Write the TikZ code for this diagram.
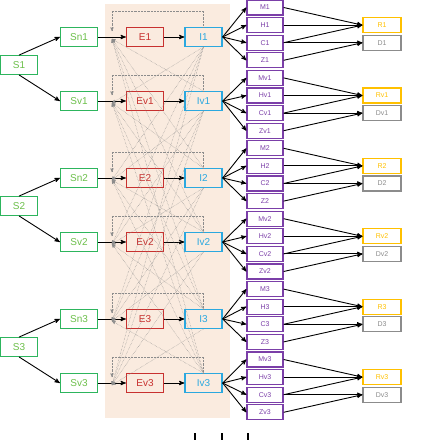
\documentclass[tikz,border=0pt]{standalone}
\usepackage{fontspec}
\setsansfont{Liberation Sans}
\usetikzlibrary{arrows}

\definecolor{sline}{HTML}{2DB55D}
\definecolor{stext}{HTML}{6CBF4A}
\definecolor{eline}{HTML}{C8312F}
\definecolor{iline}{HTML}{2BA8DF}
\definecolor{mline}{HTML}{7B3FA8}
\definecolor{rline}{HTML}{FFC000}
\definecolor{dline}{HTML}{8C8C8C}
\definecolor{peach}{HTML}{FAEBDF}

\begin{document}
\begin{tikzpicture}[font=\sffamily,
x=1pt, y=-1pt,
>=stealth',
box/.style={draw, line width=1.3pt, inner sep=0pt, minimum width=37pt, minimum height=18.5pt, font=\sffamily\fontsize{10}{10}\selectfont},
small/.style={draw, line width=1.3pt, inner sep=0pt, minimum width=36pt, minimum height=15pt, font=\sffamily\fontsize{7}{7}\selectfont}]
\tikzstyle{sbox} = [box, draw=sline, text=stext]
\tikzstyle{ebox} = [box, draw=eline, text=eline]
\tikzstyle{ibox} = [box, draw=iline, text=iline]
\tikzstyle{mbox} = [small, draw=mline, text=mline]
\tikzstyle{rbox} = [small, draw=rline, text=rline, minimum width=38pt]
\tikzstyle{dbox} = [small, draw=dline, text=dline, minimum width=38pt]
\tikzstyle{ar} = [->, line width=0.9pt]
\tikzstyle{fb} = [->, densely dotted, draw=gray!90, line width=0.45pt]
\useasboundingbox (0,0) rectangle (436,440);
\fill[peach] (105,4) rectangle (230,418);

\node[sbox] (S1) at (19,65) {S1};
\node[sbox] (S2) at (19,206) {S2};
\node[sbox] (S3) at (19,347) {S3};

\foreach \r/\y/\a/\b in {1/37/n1/1, 2/101/v1/v1, 3/178/n2/2, 4/242/v2/v2, 5/319/n3/3, 6/383/v3/v3}{
  \node[sbox] (sn\r) at (79,\y) {S\a};
  \node[ebox] (e\r) at (145,\y) {E\b};
  \node[ibox] (i\r) at (203.5,\y) {I\b};
  \coordinate (in\r) at (112,{\y+2});
  \coordinate (loop\r) at (112,{\y-6});
  \draw[ar] (sn\r) -- (e\r);
  \draw[ar] (e\r) -- (i\r);
  % outputs of each I
  \foreach \m [count=\c] in {M,H,C,Z}{
    \pgfmathsetmacro\yy{7.5+17.6*(4*(\r-1)+\c-1)}
    \node[mbox] (\m\r) at (265,\yy) {\m\b};
    \draw[ar] (i\r.east) -- (\m\r.west);
  }
  \node[rbox] (r\r) at ([xshift=117pt]H\r.center) {R\b};
  \node[dbox] (d\r) at ([xshift=117pt]C\r.center) {D\b};
  \draw[ar] (M\r.east) -- (r\r.west);
  \draw[ar] (H\r.east) -- (r\r.west);
  \draw[ar] (C\r.east) -- (r\r.west);
  \draw[ar] (C\r.east) -- (d\r.west);
  \draw[ar] (Z\r.east) -- (d\r.west);
}

\draw[ar] (S1.north) -- (sn1.west);
\draw[ar] (S1.south) -- (sn2.west);
\draw[ar] (S2.north) -- (sn3.west);
\draw[ar] (S2.south) -- (sn4.west);
\draw[ar] (S3.north) -- (sn5.west);
\draw[ar] (S3.south) -- (sn6.west);

% feedback from every I to every E
\foreach \j in {1,...,6}{
  \foreach \k in {1,...,6}{
    \ifnum\j<\k \draw[fb] (i\j.south) -- (in\k);\fi
    \ifnum\j>\k \draw[fb] (i\j.north) -- (in\k);\fi
  }
  \draw[fb] (i\j.north) -- ++(0,-16) -| (loop\j);
}

\foreach \x in {195,222,248} \fill ({\x-1.3},433) rectangle ({\x+1.3},440);
\end{tikzpicture}
\end{document}
